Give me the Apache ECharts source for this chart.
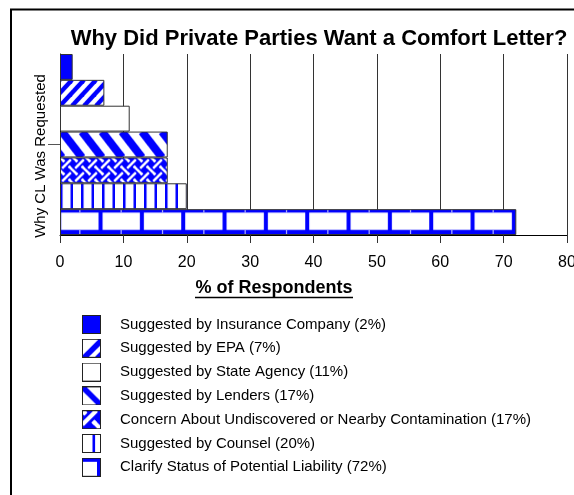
<!DOCTYPE html>
<html><head><meta charset="utf-8">
<script src="https://cdn.jsdelivr.net/npm/echarts@6/dist/echarts.min.js"></script>
<style>html,body{margin:0;padding:0;background:#fff;overflow:hidden;}#c{width:574px;height:495px;}</style>
</head><body><div id="c"></div>
<script>
// ---- data ----
const categories = ['Why CL Was Requested'];
const seriesNames = [
  'Suggested by Insurance Company (2%)',
  'Suggested by EPA (7%)',
  'Suggested by State Agency (11%)',
  'Suggested by Lenders (17%)',
  'Concern About Undiscovered or Nearby Contamination (17%)',
  'Suggested by Counsel (20%)',
  'Clarify Status of Potential Liability (72%)'
];
const seriesValues = [2, 7, 11, 17, 17, 20, 72];
const xTickLabels = ['0', '10', '20', '30', '40', '50', '60', '70', '80'];
const titleText = 'Why Did Private Parties Want a Comfort Letter?';
const xAxisTitle = '% of Respondents';
const yAxisTitle = 'Why CL Was Requested';

// ---- styles ----
const BLUE = '#0000ff';
const FONT = "'Liberation Sans', Arial, Helvetica, sans-serif";
function mk(w, h, draw) {
  const c = document.createElement('canvas');
  c.width = w; c.height = h;
  const g = c.getContext('2d');
  draw(g, w, h);
  return c;
}
function line(g, x1, y1, x2, y2) { g.beginPath(); g.moveTo(x1, y1); g.lineTo(x2, y2); g.stroke(); }

function weave(g, s, w, h) {
  g.fillStyle = BLUE; g.fillRect(0, 0, w, h);
  const T = 13 * s;
  for (let ox = -T; ox <= w + T; ox += T) {
    for (let oy = -T; oy <= h + T; oy += T) {
      g.strokeStyle = '#fff'; g.lineWidth = 2.6 * s;
      line(g, ox, oy, ox + T, oy + T);          // "\"
      g.strokeStyle = BLUE; g.lineWidth = 6 * s;
      line(g, ox + T * 0.3, oy + T * 0.7, ox + T * 0.7, oy + T * 0.3);
      g.strokeStyle = '#fff'; g.lineWidth = 2.6 * s;
      line(g, ox, oy + T, ox + T, oy);          // "/"
      g.strokeStyle = BLUE; g.lineWidth = 6 * s;
      line(g, ox - T * 0.2, oy - T * 0.2, ox + T * 0.2, oy + T * 0.2);
      g.strokeStyle = '#fff'; g.lineWidth = 2.6 * s;
      line(g, ox - T * 0.3, oy - T * 0.3, ox + T * 0.3, oy + T * 0.3);
    }
  }
}

const barTiles = [
  null,
  mk(12, 26, (g) => { g.fillStyle = '#fff'; g.fillRect(0, 0, 12, 26); g.strokeStyle = BLUE; g.lineWidth = 4.4;
    for (let k = -4; k <= 4; k++) line(g, k * 12, 26, k * 12 + 24, 0); }),
  null,
  mk(20, 26, (g) => { g.fillStyle = '#fff'; g.fillRect(0, 0, 20, 26); g.strokeStyle = BLUE; g.lineWidth = 8;
    for (let k = -3; k <= 3; k++) line(g, k * 20 + 2, 0, k * 20 + 22, 26); }),
  mk(13, 13, (g) => weave(g, 1, 13, 13)),
  mk(21, 4, (g) => { g.fillStyle = '#fff'; g.fillRect(0, 0, 21, 4); g.fillStyle = BLUE;
    g.fillRect(0, 0, 2.5, 4); g.fillRect(10.5, 0, 2.5, 4); }),
  mk(124, 26, (g) => { g.fillStyle = BLUE; g.fillRect(0, 0, 124, 26); const P = 124 / 3;
    for (let k = 0; k < 3; k++) { const m = -0.83 + P * k;
      g.fillStyle = '#fff'; g.fillRect(m + 2, 3.4, P - 4, 17.3);
      g.fillStyle = '#b4b4ff'; const mid = m + P / 2; g.fillRect(mid - 0.6, 0, 1.2, 3.4); g.fillRect(mid - 0.6, 20.7, 1.2, 5.3); } })
];
const barBase = ['#0000ff', null, '#ffffff', null, null, null, null];

function icon(draw) {
  const c = mk(19, 19, (g) => { g.fillStyle = '#fff'; g.fillRect(0, 0, 19, 19); draw(g);
    g.strokeStyle = '#222'; g.lineWidth = 1; g.strokeRect(0.5, 0.5, 18, 18); });
  return 'image://' + c.toDataURL();
}
const legendIcons = [
  icon((g) => { g.fillStyle = BLUE; g.fillRect(0, 0, 19, 19); }),
  icon((g) => { g.strokeStyle = BLUE; g.lineWidth = 5.5; line(g, 0, 21, 21, 0);
    g.fillStyle = BLUE; g.beginPath(); g.moveTo(19, 12); g.lineTo(19, 19); g.lineTo(12, 19); g.fill(); }),
  icon(() => {}),
  icon((g) => { g.strokeStyle = BLUE; g.lineWidth = 5.5; line(g, 0, 0, 19, 19); }),
  icon((g) => { g.save(); g.translate(-3, -3); weave(g, 1.6, 25, 25); g.restore(); }),
  icon((g) => { g.fillStyle = BLUE; g.fillRect(10.5, 0, 2.6, 19); }),
  icon((g) => { g.fillStyle = BLUE; g.fillRect(0, 0, 19, 4); g.fillRect(15, 0, 4, 19); })
];

const chart = echarts.init(document.getElementById('c'), null, { renderer: 'canvas', width: 574, height: 495 });
const option = {
  animation: false,
  backgroundColor: '#fff',
  title: {
    text: titleText, left: 319, top: 28, padding: 0, textAlign: 'center',
    textStyle: { fontFamily: FONT, fontSize: 22, fontWeight: 'bold', color: '#000' }
  },
  grid: { left: 60, right: 7, top: 54, bottom: 260, containLabel: false, outerBoundsMode: 'none' },
  xAxis: {
    type: 'value', min: 0, max: 80, interval: 10,
    axisLine: { show: true, lineStyle: { color: '#000', width: 1 } },
    axisTick: { show: true, length: 8, lineStyle: { color: '#333' } },
    axisLabel: { margin: 20, fontFamily: FONT, fontSize: 16, color: '#000',
      formatter: (v) => xTickLabels[Math.round(v / 10)] },
    splitLine: { show: true, lineStyle: { color: '#333', width: 1 } }
  },
  yAxis: {
    type: 'category', data: categories,
    axisLine: { show: true, lineStyle: { color: '#000' } },
    axisTick: { show: true, alignWithLabel: true, length: 12, lineStyle: { color: '#555' } },
    axisLabel: { show: false },
    splitLine: { show: false }
  },
  legend: {
    orient: 'vertical', left: 82, top: 315, itemWidth: 19, itemHeight: 19, itemGap: 4.8,
    selectedMode: false, padding: 0,
    textStyle: { fontFamily: FONT, fontSize: 15, color: '#000', padding: [0, 0, 0, 14] },
    data: seriesNames.map((n, i) => ({ name: n, icon: legendIcons[i] }))
  },
  graphic: [
    { type: 'rect', shape: { x: 11, y: 9.5, width: 700, height: 700 }, style: { fill: 'none', stroke: '#000', lineWidth: 2 }, silent: true },
    { type: 'text', x: 41, y: 156, rotation: Math.PI / 2, silent: true,
      style: { text: yAxisTitle, fontFamily: FONT, fontSize: 15, fill: '#000', align: 'center', verticalAlign: 'middle' } },
    { type: 'text', x: 274, y: 288, silent: true,
      style: { text: xAxisTitle, fontFamily: FONT, fontSize: 18, fontWeight: 'bold', fill: '#000', align: 'center', verticalAlign: 'middle' } },
    { type: 'line', shape: { x1: 195, y1: 297.5, x2: 353, y2: 297.5 }, style: { stroke: '#000', lineWidth: 1.5 }, silent: true }
  ],
  series: seriesNames.map((n, i) => ({
    name: n, type: 'bar', barGap: '0%', barCategoryGap: '0%',
    data: [seriesValues[i]],
    itemStyle: { color: barBase[i] || '#fff', borderColor: '#333', borderWidth: 1 },
    emphasis: { disabled: true }
  }))
};
chart.setOption(option);
// align the fill patterns to each bar's own corner (positions come from the library layout)
const model = chart.getModel();
chart.setOption({
  series: seriesNames.map((n, i) => {
    if (!barTiles[i]) return {};
    const lay = model.getSeriesByIndex(i).getData().getItemLayout(0);
    const x = Math.min(lay.x, lay.x + lay.width), y = Math.min(lay.y, lay.y + lay.height);
    return { itemStyle: { color: { image: barTiles[i], repeat: 'repeat', x: x, y: y } } };
  })
});
</script></body></html>
